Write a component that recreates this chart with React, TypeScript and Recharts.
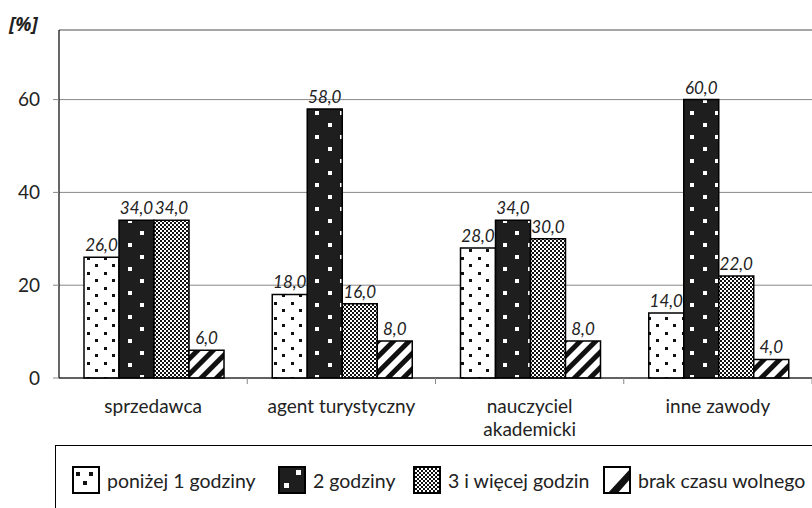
import { BarChart, Bar, XAxis, YAxis, CartesianGrid, LabelList, ReferenceLine } from 'recharts';

const categories = ['sprzedawca', 'agent turystyczny', 'nauczyciel akademicki', 'inne zawody'];
const seriesNames = ['poniżej 1 godziny', '2 godziny', '3 i więcej godzin', 'brak czasu wolnego'];
const below1h = [26, 18, 28, 14];
const twoHours = [34, 58, 34, 60];
const threePlus = [34, 16, 30, 22];
const noTime = [6, 8, 8, 4];
const yTicks = [0, 20, 40, 60];

const FONT = 'Lato, "Open Sans", sans-serif';
const PATTERNS = ['url(#pDots)', 'url(#pBlack)', 'url(#pCheck)', 'url(#pStripe)'];
const SWATCHES = ['url(#sDots)', 'url(#sBlack)', 'url(#pCheck)', 'url(#sStripe)'];
const KEYS = ['a', 'b', 'c', 'd'];
// left edge of each legend entry inside the page
const LEGEND_X = [72, 278, 413, 603];

const data = categories.map((name, i) => ({
  name,
  a: below1h[i],
  b: twoHours[i],
  c: threePlus[i],
  d: noTime[i],
}));

const fmt = (v: any) => Number(v).toFixed(1).replace('.', ',');

// width of one category band: (chart width - y axis width) / count
const BAND = (812 - 59) / categories.length;

// long category names go on two lines, like the original axis
function splitLabel(s: string) {
  if (s.length <= 18) return [s];
  const i = s.indexOf(' ');
  return [s.slice(0, i), s.slice(i + 1)];
}

function CategoryTick(props: any) {
  const { x, y, payload } = props;
  const lines = splitLabel(String(payload.value));
  return (
    <g>
      <line x1={x + BAND / 2} x2={x + BAND / 2} y1={y - 8} y2={y - 2} stroke="#888" />
      <text x={x} y={y + 27} textAnchor="middle" fontSize={19} fontFamily={FONT} fill="#222">
        {lines.map((l, i) => (
          <tspan key={i} x={x} dy={i === 0 ? 0 : 23}>
            {l}
          </tspan>
        ))}
      </text>
    </g>
  );
}

function Swatch({ fill }: { fill: string }) {
  return (
    <svg width={28} height={28} style={{ display: 'block' }}>
      <rect x={1} y={1} width={26} height={26} fill={fill} stroke="#000" strokeWidth={2} />
    </svg>
  );
}

export default function App() {
  return (
    <div style={{ position: 'absolute', left: 0, top: 0, width: 812, height: 508, background: '#fff', overflow: 'hidden' }}>
      <span
        style={{
          position: 'absolute',
          left: 9,
          top: 12,
          fontFamily: '"Open Sans", sans-serif',
          fontSize: 19,
          fontWeight: 700,
          fontStyle: 'italic',
          color: '#222',
          lineHeight: '24px',
        }}
      >
        [%]
      </span>
      <BarChart
        width={812}
        height={446}
        data={data}
        margin={{ top: 30, right: 0, left: 0, bottom: 8 }}
        barCategoryGap={25}
        barGap={0}
      >
        <defs>
          <pattern id="pDots" width={17} height={15} patternUnits="userSpaceOnUse">
            <rect width={17} height={15} fill="#fff" />
            <rect x={2} y={2} width={3} height={3} fill="#111" />
            <rect x={10} y={9} width={3} height={3} fill="#111" />
          </pattern>
          <pattern id="pBlack" width={25} height={24} patternUnits="userSpaceOnUse">
            <rect width={25} height={24} fill="#1e1e1e" />
            <rect x={3} y={3} width={4} height={4} fill="#fff" />
            <rect x={15} y={15} width={4} height={4} fill="#fff" />
          </pattern>
          <pattern id="pCheck" width={4} height={4} patternUnits="userSpaceOnUse">
            <rect width={4} height={4} fill="#fff" />
            <rect x={0} y={0} width={2} height={2} fill="#111" />
            <rect x={2} y={2} width={2} height={2} fill="#111" />
          </pattern>
          <pattern id="pStripe" width={11} height={11} patternUnits="userSpaceOnUse" patternTransform="rotate(45)">
            <rect width={11} height={11} fill="#fff" />
            <rect x={0} y={0} width={5} height={11} fill="#111" />
          </pattern>
          <pattern id="sDots" width={26} height={26} patternUnits="userSpaceOnUse">
            <rect width={26} height={26} fill="#fff" />
            <rect x={4} y={6} width={4} height={4} fill="#111" />
            <rect x={17} y={6} width={4} height={4} fill="#111" />
            <rect x={11} y={15} width={4} height={4} fill="#111" />
          </pattern>
          <pattern id="sBlack" width={26} height={26} patternUnits="userSpaceOnUse">
            <rect width={26} height={26} fill="#1e1e1e" />
            <rect x={18} y={4} width={5} height={5} fill="#fff" />
            <rect x={6} y={17} width={5} height={5} fill="#fff" />
          </pattern>
          <pattern id="sStripe" width={28} height={28} patternUnits="userSpaceOnUse">
            <rect width={28} height={28} fill="#fff" />
            <polygon points="4,28 14,28 28,12 28,2" fill="#111" />
          </pattern>
        </defs>
        <CartesianGrid vertical={false} stroke="#888" />
        <ReferenceLine y={75} stroke="#888" />
        <XAxis
          dataKey="name"
          height={60}
          axisLine={{ stroke: '#000', strokeWidth: 1.2 }}
          tickLine={false}
          tick={<CategoryTick />}
          interval={0}
        />
        <YAxis
          width={59}
          domain={[0, 75]}
          ticks={yTicks}
          tickSize={6}
          tickMargin={13}
          axisLine={{ stroke: '#000', strokeWidth: 1.2 }}
          tickLine={{ stroke: '#888' }}
          tick={{ fontSize: 19, fontFamily: FONT, fill: '#222' }}
        />
        {KEYS.map((k, i) => (
          <Bar key={k} dataKey={k} name={seriesNames[i]} fill={PATTERNS[i]} stroke="#000" strokeWidth={1.5} isAnimationActive={false}>
            <LabelList
              dataKey={k}
              position="top"
              offset={6}
              formatter={fmt}
              style={{ fontSize: 17, fontFamily: FONT, fontStyle: 'italic', fill: '#222' }}
            />
          </Bar>
        ))}
      </BarChart>
      <div
        style={{
          position: 'absolute',
          left: 55,
          top: 445,
          width: 800,
          height: 80,
          border: '1px solid #000',
          boxSizing: 'border-box',
        }}
      />
      {seriesNames.map((n, i) => (
        <div
          key={n}
          style={{
            position: 'absolute',
            left: LEGEND_X[i],
            top: 466,
            display: 'flex',
            alignItems: 'center',
            fontFamily: FONT,
            fontSize: 19.5,
            color: '#222',
            whiteSpace: 'nowrap',
          }}
        >
          <Swatch fill={SWATCHES[i]} />
          <span style={{ marginLeft: 7 }}>{n}</span>
        </div>
      ))}
    </div>
  );
}
